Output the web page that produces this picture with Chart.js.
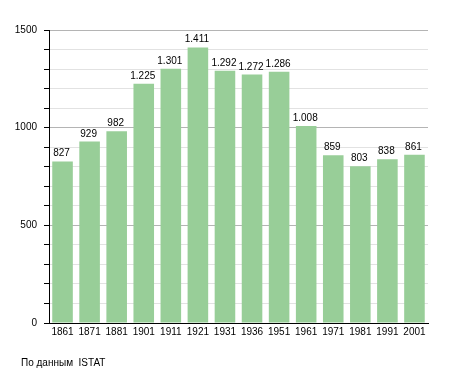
<!DOCTYPE html>
<html>
<head>
<meta charset="utf-8">
<script src="https://cdn.jsdelivr.net/npm/chart.js@4"></script>
<style>
  body { margin: 0; background: #fff; }
  #wrap { position: relative; width: 455px; height: 373px; }
  #source {
    position: absolute; left: 21px; top: 357px;
    font: 10px "Liberation Sans", Arial, sans-serif; color: #000;
    white-space: pre;
  }
</style>
</head>
<body>
<div id="wrap">
  <canvas id="chart"></canvas>
  <div id="source">По данным  ISTAT</div>
</div>
<script>
// Data.
const years = ['1861', '1871', '1881', '1901', '1911', '1921', '1931', '1936', '1951', '1961', '1971', '1981', '1991', '2001'];
const population = [827, 929, 982, 1225, 1301, 1411, 1292, 1272, 1286, 1008, 859, 803, 838, 861];
const yMax = 1500;
const yLabelStep = 500;

const fontFamily = '"Liberation Sans", Arial, sans-serif';

// 1225 -> "1.225"
const formatValue = (v) => String(v).replace(/\B(?=(\d{3})+(?!\d))/g, '.');

// Draw the value over every bar.
const valueLabels = {
  id: 'valueLabels',
  afterDatasetsDraw(chart) {
    const ctx = chart.ctx;
    const meta = chart.getDatasetMeta(0);
    ctx.save();
    ctx.font = '10px ' + fontFamily;
    ctx.fillStyle = '#000';
    ctx.textAlign = 'center';
    ctx.textBaseline = 'alphabetic';
    meta.data.forEach((bar, i) => {
      ctx.fillText(formatValue(population[i]), bar.x - 1, bar.y - 5);
    });
    ctx.restore();
  }
};

const chart = new Chart(document.getElementById('chart'), {
  type: 'bar',
  data: {
    labels: years,
    datasets: [{
      data: population,
      backgroundColor: 'rgb(152, 206, 152)',
      borderWidth: 0,
      categoryPercentage: 1,
      barPercentage: 0.76
    }]
  },
  options: {
    responsive: true,
    maintainAspectRatio: false,
    animation: false,
    layout: { padding: { left: 0, right: 27, top: 30, bottom: 30 } },
    plugins: {
      legend: { display: false },
      tooltip: { enabled: false }
    },
    scales: {
      x: {
        grid: { display: false, drawTicks: false },
        border: { display: true, color: '#000', width: 1 },
        ticks: {
          color: '#000',
          font: { family: fontFamily, size: 10 },
          padding: 3,
          maxRotation: 0,
          autoSkip: false
        },
        afterFit(scale) { scale.height = 20; }
      },
      y: {
        min: 0,
        max: yMax,
        grid: {
          color: (c) => (c.tick && c.tick.value % yLabelStep === 0) ? '#b4b4b4' : '#e2e2e2',
          tickColor: '#000',
          tickLength: 5,
          drawTicks: true
        },
        border: { display: true, color: '#000', width: 1 },
        ticks: {
          stepSize: 100,
          color: '#000',
          font: { family: fontFamily, size: 10 },
          padding: 7,
          autoSkip: false,
          callback: (v) => (v % yLabelStep === 0 ? v : '')
        },
        afterFit(scale) { scale.width = 49; }
      }
    }
  },
  plugins: [valueLabels]
});
</script>
</body>
</html>
